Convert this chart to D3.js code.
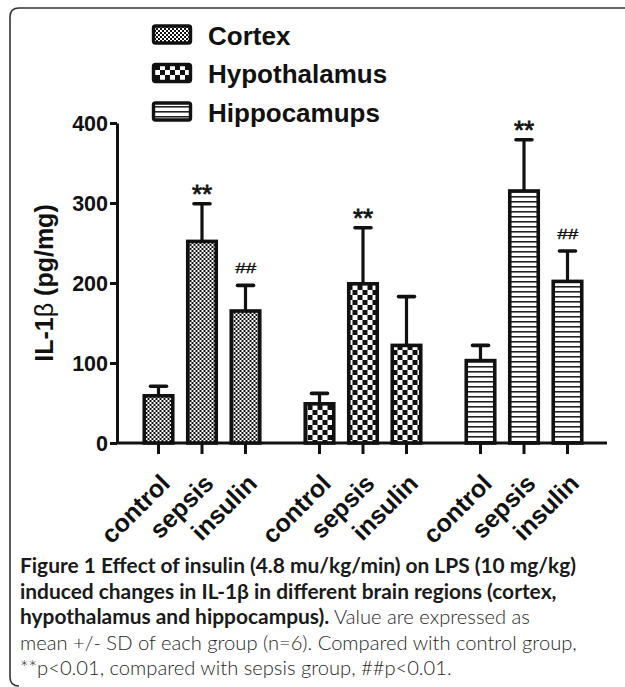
<!DOCTYPE html>
<html><head><meta charset="utf-8">
<script src="https://cdn.jsdelivr.net/npm/d3@7"></script>
<style>body{margin:0;background:#fff} svg{display:block}</style>
</head><body><svg id="c" width="625" height="687"></svg>
<script>
// ---------- data ----------
const regions = ["Cortex", "Hypothalamus", "Hippocamups"];
const groups = ["control", "sepsis", "insulin"];
const cortexMean = [59, 252, 165];
const cortexSD = [12, 47, 32];
const hypoMean = [49, 199, 122];
const hypoSD = [13, 70, 61];
const hippoMean = [103, 315, 202];
const hippoSD = [19, 64, 38];
const yTicks = [0, 100, 200, 300, 400];
const cortexMarks = ["", "**", "##"];
const hypoMarks = ["", "**", ""];
const hippoMarks = ["", "**", "##"];
const yLabel = ["IL-1", "β", " (pg/mg)"];
const captionLines = [
  [["Figure 1 Effect of insulin (4.8 mu/kg/min) on LPS (10 mg/kg)", true]],
  [["induced changes in IL-1β in different brain regions (cortex,", true]],
  [["hypothalamus and hippocampus).", true], [" Value are expressed as", false]],
  [["mean +/- SD of each group (n=6). Compared with control group,", false]],
  [["**p<0.01, compared with sepsis group, ##p<0.01.", false]]
];

const means = [cortexMean, hypoMean, hippoMean];
const sds = [cortexSD, hypoSD, hippoSD];
const marks = [cortexMarks, hypoMarks, hippoMarks];
const patIds = ["pCortex", "pHypo", "pHippo"];

const svg = d3.select("#c");
const FONT = "'Liberation Sans', Arial, sans-serif";

// ---------- patterns ----------
const defs = svg.append("defs");
const p1 = defs.append("pattern").attr("id", "pCortex").attr("patternUnits", "userSpaceOnUse").attr("width", 4).attr("height", 4);
p1.append("rect").attr("width", 4).attr("height", 4).attr("fill", "#fff");
p1.append("rect").attr("width", 2).attr("height", 2).attr("fill", "#111");
p1.append("rect").attr("x", 2).attr("y", 2).attr("width", 2).attr("height", 2).attr("fill", "#111");
const p2 = defs.append("pattern").attr("id", "pHypo").attr("patternUnits", "userSpaceOnUse").attr("width", 10).attr("height", 10);
p2.append("rect").attr("width", 10).attr("height", 10).attr("fill", "#fff");
p2.append("rect").attr("width", 5).attr("height", 5).attr("fill", "#111");
p2.append("rect").attr("x", 5).attr("y", 5).attr("width", 5).attr("height", 5).attr("fill", "#111");
const p3 = defs.append("pattern").attr("id", "pHippo").attr("patternUnits", "userSpaceOnUse").attr("width", 10).attr("height", 5);
p3.append("rect").attr("width", 10).attr("height", 5).attr("fill", "#fff");
p3.append("rect").attr("y", 1).attr("width", 10).attr("height", 1.6).attr("fill", "#222");

// ---------- frame ----------
svg.append("path")
  .attr("d", "M625,8 H19 Q10,8 10,17 V677 Q10,686 19,686")
  .attr("fill", "none").attr("stroke", "#333").attr("stroke-width", 1.6);

// ---------- scales ----------
const x0 = d3.scaleBand().domain(regions).range([121.5, 604.5]).padding(0);
const x1 = d3.scaleBand().domain(groups).range([0, x0.bandwidth()])
  .paddingInner(0.3448).paddingOuter(0.523);
const y = d3.scaleLinear().domain([0, 400]).range([443, 123]);

// ---------- axes ----------
const yAx = svg.append("g").attr("transform", "translate(117,0)")
  .call(d3.axisLeft(y).tickValues(yTicks).tickSize(7).tickSizeOuter(0).tickPadding(2));
yAx.select(".domain").attr("stroke", "#111").attr("stroke-width", 3);
yAx.selectAll(".tick line").attr("stroke", "#111").attr("stroke-width", 3);
yAx.selectAll(".tick text").attr("font-family", FONT).attr("font-weight", "bold")
  .attr("font-size", 21.5).attr("fill", "#111").attr("dy", "0.36em");

svg.append("line").attr("x1", 116).attr("x2", 607).attr("y1", y(0)).attr("y2", y(0))
  .attr("stroke", "#111").attr("stroke-width", 3);

regions.forEach((r, ri) => {
  const g = svg.append("g").attr("transform", `translate(${x0(r)},${y(0)})`)
    .call(d3.axisBottom(x1).tickSize(11).tickSizeOuter(0));
  g.select(".domain").remove();
  g.selectAll(".tick line").attr("stroke", "#111").attr("stroke-width", 3);
  g.selectAll(".tick text")
    .attr("font-family", FONT).attr("font-weight", "bold").attr("font-size", 25)
    .attr("fill", "#111").attr("text-anchor", "end")
    .attr("x", 0).attr("y", 0).attr("dy", null)
    .attr("transform", "translate(13,42) rotate(-45)");
});

// ---------- bars ----------
regions.forEach((r, ri) => {
  const g = svg.append("g").attr("transform", `translate(${x0(r)},0)`);
  const data = groups.map((k, i) => ({ k, m: means[ri][i], s: sds[ri][i], mark: marks[ri][i] }));
  // error bars
  g.selectAll("line.err").data(data).join("line").attr("class", "err")
    .attr("x1", d => x1(d.k) + x1.bandwidth() / 2).attr("x2", d => x1(d.k) + x1.bandwidth() / 2)
    .attr("y1", d => y(d.m)).attr("y2", d => y(d.m + d.s))
    .attr("stroke", "#111").attr("stroke-width", 3.2);
  g.selectAll("line.cap").data(data).join("line").attr("class", "cap")
    .attr("x1", d => x1(d.k) + x1.bandwidth() / 2 - 8).attr("x2", d => x1(d.k) + x1.bandwidth() / 2 + 8)
    .attr("y1", d => y(d.m + d.s)).attr("y2", d => y(d.m + d.s))
    .attr("stroke", "#111").attr("stroke-width", 3.6).attr("stroke-linecap", "round");
  g.selectAll("rect.bar").data(data).join("rect").attr("class", "bar")
    .attr("x", d => x1(d.k)).attr("width", x1.bandwidth())
    .attr("y", d => y(d.m)).attr("height", d => y(0) - y(d.m))
    .attr("fill", `url(#${patIds[ri]})`).attr("stroke", "#111").attr("stroke-width", 3.6);
  // significance marks
  g.selectAll("text.mk").data(data.filter(d => d.mark)).join("text").attr("class", "mk")
    .attr("x", d => x1(d.k) + x1.bandwidth() / 2)
    .attr("y", d => d.mark === "**" ? y(d.m + d.s) - 1 : y(d.m + d.s) - 12)
    .attr("text-anchor", "middle").attr("fill", "#111")
    .attr("font-family", FONT)
    .attr("font-weight", "normal")
    .attr("font-size", d => d.mark === "**" ? 26 : 15)
    .attr("font-style", d => d.mark === "##" ? "italic" : "normal")
    .attr("stroke", "#111")
    .attr("stroke-width", d => d.mark === "**" ? 0.8 : 0.35)
    .attr("textLength", d => d.mark === "##" ? 21 : null)
    .attr("lengthAdjust", "spacingAndGlyphs")
    .text(d => d.mark);
});

// ---------- y label ----------
const yl = svg.append("text").attr("transform", "translate(53,283) rotate(-90)")
  .attr("text-anchor", "middle").attr("font-family", FONT).attr("font-size", 25)
  .attr("font-weight", "bold").attr("fill", "#111");
yLabel.forEach((t, i) => yl.append("tspan").attr("font-weight", i === 1 ? "normal" : "bold").text(t));

// ---------- legend ----------
const lg = svg.append("g");
regions.forEach((r, i) => {
  const yy = 26 + i * 38.5;
  lg.append("rect").attr("x", 153.5).attr("y", yy).attr("width", 37).attr("height", 17)
    .attr("rx", 2).attr("fill", `url(#${patIds[i]})`).attr("stroke", "#111").attr("stroke-width", 3.4);
  lg.append("text").attr("x", 208).attr("y", yy + 18.5).attr("font-family", FONT)
    .attr("font-weight", "bold").attr("font-size", 26).attr("fill", "#111").text(r);
});

// ---------- caption ----------
const CF = "Lato, 'Open Sans', sans-serif";
const cap = svg.append("g");
const baselines = [573, 598.5, 624, 649.5, 675];
const capTexts = captionLines.map((line, li) => {
  const t = cap.append("text").attr("x", 20).attr("y", baselines[li]).attr("font-family", CF);
  line.forEach(([s, b]) => t.append("tspan")
    .attr("font-weight", b ? 700 : 300).attr("fill", b ? "#1a1a1a" : "#262626")
    .attr("font-size", 18).text(s));
  return t;
});
// fit font sizes to the reference line widths
const wb = capTexts[1].node().getComputedTextLength();
const wr = capTexts[3].node().getComputedTextLength();
const fb = 18 * 537 / wb, fr = 18 * 557 / wr;
cap.selectAll("tspan").attr("font-size", function () { return d3.select(this).attr("font-weight") == 700 ? fb : fr; });
</script></body></html>
